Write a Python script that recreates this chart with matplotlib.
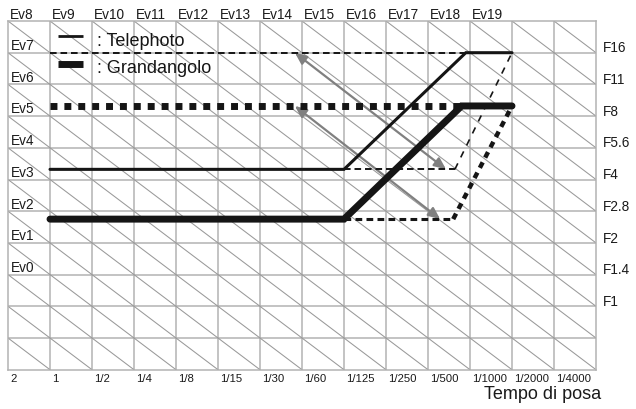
import matplotlib
matplotlib.use("Agg")
import matplotlib.pyplot as plt

plt.rcParams['font.family'] = ['Liberation Sans', 'DejaVu Sans']

# ---- data (grid units: x = shutter column, y = aperture row) ----
shutter_labels = ["2", "1", "1/2", "1/4", "1/8", "1/15", "1/30", "1/60",
                  "1/125", "1/250", "1/500", "1/1000", "1/2000", "1/4000"]
ev_top_labels = ["Ev8", "Ev9", "Ev10", "Ev11", "Ev12", "Ev13", "Ev14",
                 "Ev15", "Ev16", "Ev17", "Ev18", "Ev19"]
ev_left_labels = ["Ev7", "Ev6", "Ev5", "Ev4", "Ev3", "Ev2", "Ev1", "Ev0"]
ev_left_rows = [10, 9, 8, 7, 6, 5, 4, 3]
f_labels = ["F16", "F11", "F8", "F5.6", "F4", "F2.8", "F2", "F1.4", "F1"]
f_rows = [10, 9, 8, 7, 6, 5, 4, 3, 2]

tele_x = [1, 8, 10.9, 12]
tele_y = [6.32, 6.32, 10.0, 10.0]
grand_x = [1, 8, 10.8, 12]
grand_y = [4.75, 4.75, 8.32, 8.32]

tele_alt_x = [8, 10.64, 12]
tele_alt_y = [6.32, 6.32, 10.0]
grand_alt_x = [8, 10.6, 12]
grand_alt_y = [4.75, 4.75, 8.32]

tele_limit_x = [1, 10.9]
tele_limit_y = [10.0, 10.0]
grand_limit_x = [1, 10.8]
grand_limit_y = [8.32, 8.32]

tele_arrow = [(6.83, 10.0), (10.43, 6.32)]
grand_arrow = [(6.83, 8.32), (10.29, 4.75)]

n_cols = 14
n_rows = 11

# ---- figure ----
fig = plt.figure(figsize=(6.36, 4.10), dpi=100)
W, H = 636, 410
left_px, right_px, top_px, bot_px = 8, 596, 22, 370.7
ax = fig.add_axes([left_px / W, (H - bot_px) / H,
                   (right_px - left_px) / W, (bot_px - top_px) / H])
ax.set_xlim(0, n_cols)
ax.set_ylim(0, n_rows)
ax.set_xticks([])
ax.set_yticks([])
grid_c = '#b3b3b3'
for s in ax.spines.values():
    s.set_color(grid_c)
    s.set_linewidth(1.1)

for i in range(1, n_cols):
    ax.plot([i, i], [0, n_rows], color=grid_c, lw=1.1, zorder=1)
for j in range(1, n_rows):
    ax.plot([0, n_cols], [j, j], color=grid_c, lw=1.1, zorder=1)
for k in range(1, n_cols + n_rows):
    x0 = max(0, k - n_rows)
    x1 = min(n_cols, k)
    ax.plot([x0, x1], [k - x0, k - x1], color='#999999', lw=0.75, zorder=1)

dark = '#151515'
# limit lines
ax.plot(tele_limit_x, tele_limit_y, color=dark, lw=1.4, dashes=(3.4, 2.0),
        dash_capstyle='butt', zorder=3)
ax.plot(grand_limit_x, grand_limit_y, color=dark, lw=5.0, dashes=(1, 1),
        dash_capstyle='butt', zorder=3)
# alternative programs
ax.plot(tele_alt_x[:2], tele_alt_y[:2], color=dark, lw=1.4, dashes=(3.4, 2.0),
        zorder=3)
ax.plot(tele_alt_x[1:], tele_alt_y[1:], color=dark, lw=1.2, dashes=(4, 4),
        zorder=3)
ax.plot(grand_alt_x[:2], grand_alt_y[:2], color=dark, lw=2.2, dashes=(2.2, 1.4),
        zorder=3)
ax.plot(grand_alt_x[1:], grand_alt_y[1:], color=dark, lw=3.2, dashes=(1.4, 1.2),
        zorder=3)
# main programs
ax.plot(tele_x, tele_y, color=dark, lw=2.2, solid_capstyle='round',
        solid_joinstyle='miter', zorder=4)
ax.plot(grand_x, grand_y, color=dark, lw=5.0, solid_capstyle='round',
        solid_joinstyle='miter', zorder=4)

# shift arrows
for (p0, p1) in (tele_arrow, grand_arrow):
    ax.annotate('', xy=p1, xytext=p0,
                arrowprops=dict(arrowstyle='<|-|>,head_length=0.5,head_width=0.22',
                                color='#808080', lw=1.6,
                                mutation_scale=14, shrinkA=0, shrinkB=0),
                zorder=2)

# legend
ax.plot([1.19, 1.79], [10.53, 10.53], color=dark, lw=2.0, solid_capstyle='butt')
ax.plot([1.19, 1.79], [9.64, 9.64], color=dark, lw=5.0, solid_capstyle='butt')
ax.text(2.12, 10.25, ': Telephoto', fontsize=13, va='baseline', ha='left', color=dark)
ax.text(2.12, 9.40, ': Grandangolo', fontsize=13, va='baseline', ha='left', color=dark)

# labels
tc = '#1a1a1a'
for i, lab in enumerate(ev_top_labels):
    ax.text(i + 0.05, n_rows + 0.22, lab, fontsize=9.8, ha='left', va='center',
            color=tc, clip_on=False)
for lab, r in zip(ev_left_labels, ev_left_rows):
    ax.text(0.07, r + 0.02, lab, fontsize=9.8, ha='left', va='bottom', color=tc)
for lab, r in zip(f_labels, f_rows):
    ax.text(n_cols + 0.17, r + 0.17, lab, fontsize=9.8, ha='left', va='center',
            color=tc, clip_on=False)
for i, lab in enumerate(shutter_labels):
    ax.text(i + 0.05, -0.27, lab, fontsize=8.2, ha='left', va='center',
            color=tc, clip_on=False)
ax.text(14.12, -0.90, 'Tempo di posa', fontsize=13, ha='right', va='baseline',
        color=tc, clip_on=False)

fig.savefig('out.png', dpi=100)
